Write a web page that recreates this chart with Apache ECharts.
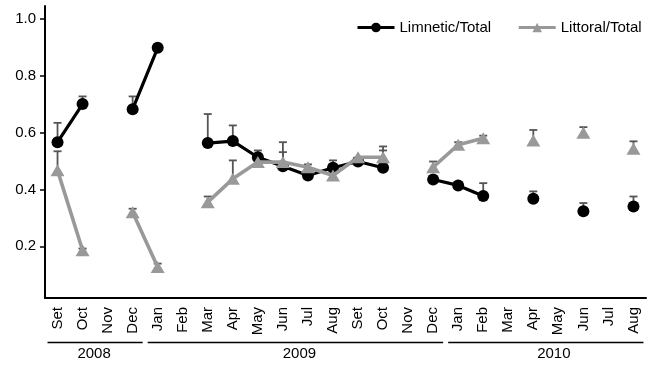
<!DOCTYPE html>
<html>
<head>
<meta charset="utf-8">
<script src="https://cdn.jsdelivr.net/npm/echarts@6/dist/echarts.min.js"></script>
<style>
html,body{margin:0;padding:0;background:#fff;}
#chart{width:662px;height:365px;}
</style>
</head>
<body>
<div id="chart"></div>
<script>
const months = ['Set','Oct','Nov','Dec','Jan','Feb','Mar','Apr','May','Jun','Jul','Aug','Set','Oct','Nov','Dec','Jan','Feb','Mar','Apr','May','Jun','Jul','Aug'];
const years = [
  {label:'2008', first:0, last:3},
  {label:'2009', first:4, last:15},
  {label:'2010', first:16, last:23}
];
const yTicks = [0.2, 0.4, 0.6, 0.8, 1.0];

const limnetic = [0.566,0.700,null,0.682,0.898,null,0.563,0.570,0.513,0.481,0.449,0.476,0.498,0.476,null,0.435,0.414,0.377,null,0.367,null,0.323,null,0.340];
const limneticErr = [0.634,0.727,null,0.727,null,null,0.665,0.625,0.537,0.531,null,0.502,null,0.537,null,null,null,0.422,null,0.393,null,0.352,null,0.375];

const littoral = [0.467,0.186,null,0.320,0.127,null,0.355,0.437,0.496,0.496,0.478,0.449,0.513,0.513,null,0.478,0.557,0.580,null,0.572,null,0.599,null,0.543];
const littoralErr = [0.534,0.192,null,0.332,0.139,null,0.375,0.502,null,0.566,0.488,null,null,0.551,null,0.498,0.566,0.589,null,0.609,null,0.619,null,0.569];

function errData(vals, errs){
  const out = [];
  for(let i=0;i<vals.length;i++){
    if(vals[i]!=null && errs[i]!=null) out.push([i, vals[i], errs[i]]);
  }
  return out;
}
function errRender(params, api){
  const x = api.value(0);
  const lo = api.coord([x, api.value(1)]);
  const hi = api.coord([x, api.value(2)]);
  const w = 4;
  const st = {stroke:'#555', lineWidth:1.8};
  return {type:'group', children:[
    {type:'line', shape:{x1:lo[0], y1:lo[1], x2:hi[0], y2:hi[1]}, style:st},
    {type:'line', shape:{x1:hi[0]-w, y1:hi[1], x2:hi[0]+w, y2:hi[1]}, style:st}
  ]};
}

const FONT = 'Liberation Sans, Arial, sans-serif';
const chart = echarts.init(document.getElementById('chart'));
chart.setOption({
  animation:false,
  backgroundColor:'#fff',
  grid:{left:45, right:16, top:6, bottom:67},
  legend:{
    left:351, top:15, itemWidth:37, itemHeight:12, itemGap:26,
    lineStyle:{width:3},
    textStyle:{fontFamily:FONT, fontSize:15, color:'#000'},
    data:['Limnetic/Total','Littoral/Total']
  },
  xAxis:{
    type:'category', data:months, boundaryGap:true,
    axisLine:{lineStyle:{color:'#000', width:2}},
    axisTick:{alignWithLabel:true, length:4, lineStyle:{color:'#000', width:1.5}},
    axisLabel:{rotate:90, interval:0, margin:9, fontFamily:FONT, fontSize:15, color:'#000'},
    splitLine:{show:false}
  },
  yAxis:{
    type:'value', min:0.018, max:1.045,
    axisLine:{show:true, lineStyle:{color:'#000', width:2}},
    axisTick:{show:true, length:5, customValues:yTicks, lineStyle:{color:'#000', width:1.5}},
    axisLabel:{customValues:yTicks, margin:9, fontFamily:FONT, fontSize:15, color:'#000',
      formatter:v=>v.toFixed(1)},
    splitLine:{show:false}
  },
  series:[
    {type:'custom', name:'errL', renderItem:errRender, data:errData(limnetic, limneticErr), z:1, silent:true},
    {type:'custom', name:'errT', renderItem:errRender, data:errData(littoral, littoralErr), z:1, silent:true},
    {name:'Limnetic/Total', type:'line', data:limnetic, connectNulls:false,
      symbol:'circle', symbolSize:12, showSymbol:true,
      lineStyle:{color:'#000', width:3.2}, itemStyle:{color:'#000', borderWidth:0}, z:3},
    {name:'Littoral/Total', type:'line', data:littoral, connectNulls:false,
      symbol:'triangle', symbolSize:[14,12], showSymbol:true,
      lineStyle:{color:'#999', width:3.6}, itemStyle:{color:'#999', borderWidth:0}, z:4}
  ]
});

const graphics = [];
years.forEach(y=>{
  const x1 = chart.convertToPixel({xAxisIndex:0}, y.first) - 10;
  const x2 = chart.convertToPixel({xAxisIndex:0}, y.last) + 10;
  graphics.push({type:'line', shape:{x1:x1, y1:342.5, x2:x2, y2:342.5}, style:{stroke:'#000', lineWidth:1.5}});
  const cx = y.label==='2008' ? (x1+x2)/2 - 1 : (y.label==='2009' ? (x1+x2)/2 + 4 : (x1+x2)/2 + 8);
  graphics.push({type:'text', x:cx, y:354, style:{text:y.label, font:'15px '+FONT, fill:'#000', align:'center', verticalAlign:'middle'}});
});
chart.setOption({graphic:graphics});
</script>
</body>
</html>
